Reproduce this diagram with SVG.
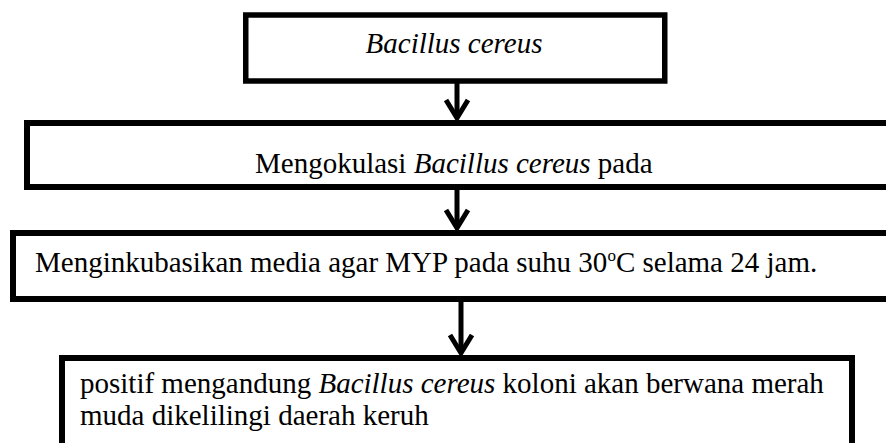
<svg xmlns="http://www.w3.org/2000/svg" width="886" height="443" viewBox="0 0 886 443">
  <style>
    .box { fill: #ffffff; stroke: #000000; stroke-width: 5.5; }
    .txt { font-family: "Liberation Serif", "DejaVu Serif", serif; font-size: 29px; fill: #000000; }
    .it { font-style: italic; }
    .shaft { stroke: #000000; stroke-width: 5; fill: none; }
    .head { stroke: #000000; stroke-width: 5; fill: none; stroke-linecap: butt; stroke-linejoin: miter; }
  </style>

  <!-- step 1 -->
  <g id="node-bacillus">
    <rect class="box" x="245.75" y="15" width="419" height="66"/>
    <text class="txt it" font-family="Liberation Serif, serif" x="454" y="53" text-anchor="middle">Bacillus cereus</text>
  </g>

  <!-- step 2 -->
  <g id="node-inokulasi">
    <rect class="box" x="27" y="123" width="880" height="64" style="stroke-width:6"/>
    <text class="txt" font-family="Liberation Serif, serif" x="255" y="173">Mengokulasi <tspan class="it">Bacillus cereus</tspan> pada</text>
  </g>

  <!-- step 3 -->
  <g id="node-inkubasi">
    <rect class="box" x="13" y="233" width="890" height="66" style="stroke-width:6"/>
    <text class="txt" font-family="Liberation Serif, serif" x="35" y="272">Menginkubasikan media agar MYP pada suhu 30<tspan font-size="17" dy="-11">o</tspan><tspan dy="11">C selama 24 jam.</tspan></text>
  </g>

  <!-- step 4 -->
  <g id="node-hasil">
    <rect class="box" x="62" y="358" width="790" height="110" style="stroke-width:6"/>
    <text class="txt" font-family="Liberation Serif, serif" x="80" y="393">positif mengandung <tspan class="it">Bacillus cereus</tspan> koloni akan berwana merah</text>
    <text class="txt" font-family="Liberation Serif, serif" x="80" y="425">muda dikelilingi daerah keruh</text>
  </g>

  <!-- connectors -->
  <g id="connectors">
    <line class="shaft" x1="457" y1="83" x2="457" y2="118"/>
    <polyline class="head" points="446,100 457,118 468,100"/>

    <line class="shaft" x1="457" y1="190" x2="457" y2="228"/>
    <polyline class="head" points="446,210 457,228 468,210"/>

    <line class="shaft" x1="461" y1="301" x2="461" y2="353"/>
    <polyline class="head" points="450,335 461,353 472,335"/>
  </g>
</svg>
